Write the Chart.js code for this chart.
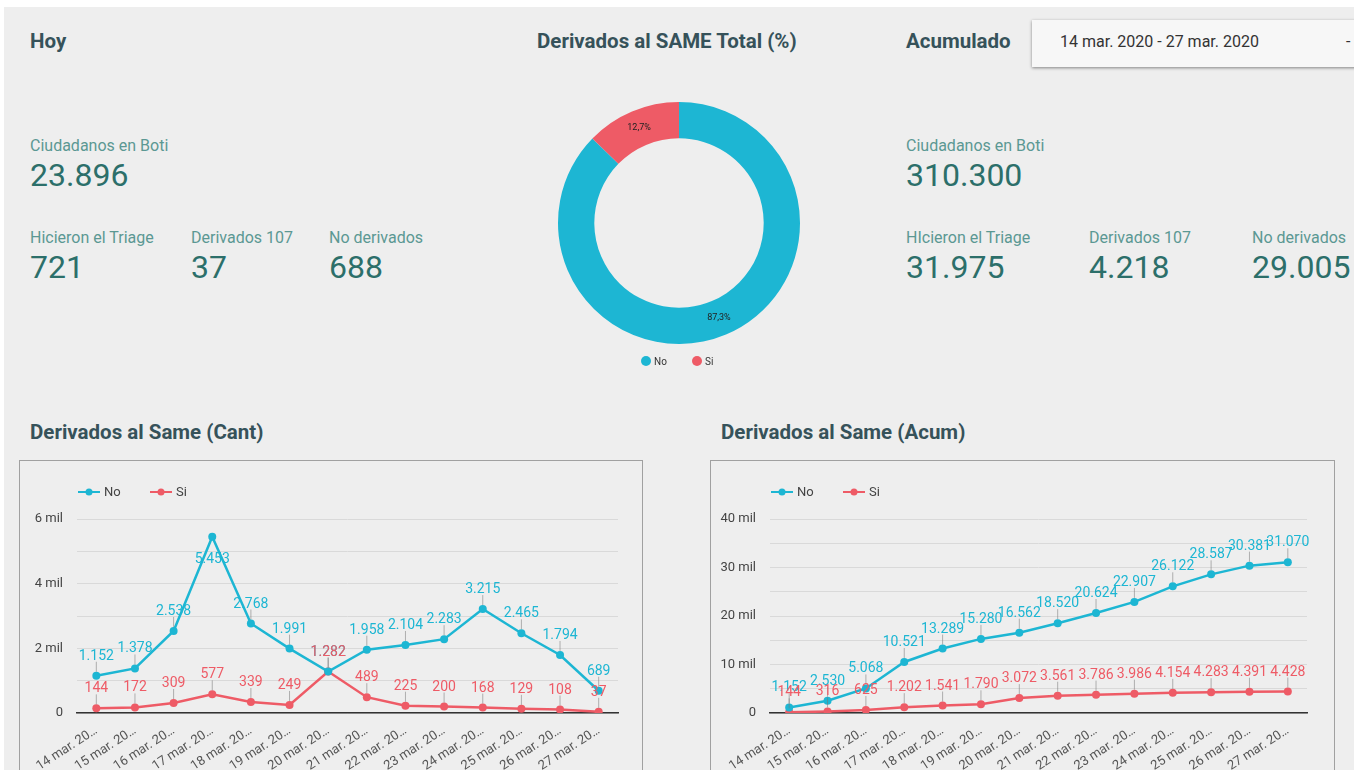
<!DOCTYPE html>
<html lang="es">
<head>
<meta charset="utf-8">
<title>Boti - Derivados al SAME</title>
<script src="https://cdn.jsdelivr.net/npm/chart.js@4.4.1/dist/chart.umd.min.js"></script>
<style>
  html, body { margin: 0; padding: 0; background: #fff; }
  body { width: 1354px; height: 770px; overflow: hidden; position: relative; font-family: Roboto, "Noto Sans", sans-serif; }
  #page { position: absolute; left: 4px; top: 7px; right: 0; bottom: 0; background: #eeeeee; }
  .t { position: absolute; white-space: nowrap; line-height: 1; }
  .title { font-weight: 700; font-size: 20.5px; color: #36525a; }
  .lbl { font-size: 16px; color: #5b9893; }
  .val { font-size: 32px; color: #2c6f6a; }
  .box { position: absolute; border: 1px solid #a0a0a0; overflow: hidden; }
  .box canvas { display: block; }
  #dropdown { position: absolute; left: 1032px; top: 20px; width: 340px; height: 47px; background: #f7f7f7;
              box-shadow: 0 1px 3px rgba(0,0,0,0.45); }
  #donutWrap { position: absolute; left: 538px; top: 90px; width: 282px; height: 290px; }
</style>
</head>
<body>
<div id="page"></div>

<!-- Hoy -->
<div class="t title" style="left:30px; top:31px;">Hoy</div>
<div class="t lbl" style="left:30px; top:138px;">Ciudadanos en Boti</div>
<div class="t val" id="hoyBoti" style="left:30px; top:159px;"></div>
<div class="t lbl" style="left:30px; top:230px;">Hicieron el Triage</div>
<div class="t lbl" style="left:191px; top:230px;">Derivados 107</div>
<div class="t lbl" style="left:329px; top:230px;">No derivados</div>
<div class="t val" id="hoyTriage" style="left:30px; top:251px;"></div>
<div class="t val" id="hoyDeriv" style="left:191px; top:251px;"></div>
<div class="t val" id="hoyNoDeriv" style="left:329px; top:251px;"></div>

<!-- Total donut -->
<div class="t title" style="left:537px; top:31px;">Derivados al SAME Total (%)</div>
<div id="donutWrap"><canvas id="donutChart" width="282" height="290"></canvas></div>

<!-- Acumulado -->
<div class="t title" style="left:906px; top:31px;">Acumulado</div>
<div id="dropdown"></div>
<div class="t" style="left:1060px; top:34px; font-size:16px; color:#333;">14 mar. 2020 - 27 mar. 2020</div>
<div class="t" style="left:1346px; top:34px; font-size:16px; color:#333;">-</div>
<div class="t lbl" style="left:906px; top:138px;">Ciudadanos en Boti</div>
<div class="t val" id="acuBoti" style="left:906px; top:159px;"></div>
<div class="t lbl" style="left:906px; top:230px;">HIcieron el Triage</div>
<div class="t lbl" style="left:1089px; top:230px;">Derivados 107</div>
<div class="t lbl" style="left:1252px; top:230px;">No derivados</div>
<div class="t val" id="acuTriage" style="left:906px; top:251px;"></div>
<div class="t val" id="acuDeriv" style="left:1089px; top:251px;"></div>
<div class="t val" id="acuNoDeriv" style="left:1252px; top:251px;"></div>

<!-- Line charts -->
<div class="t title" style="left:30px; top:422px;">Derivados al Same (Cant)</div>
<div class="box" style="left:19px; top:460px; width:622px; height:320px;">
  <canvas id="cantChart" width="622" height="320"></canvas>
</div>
<div class="t title" style="left:721px; top:422px;">Derivados al Same (Acum)</div>
<div class="box" style="left:710px; top:460px; width:623px; height:320px;">
  <canvas id="acumChart" width="623" height="320"></canvas>
</div>

<script>
// Scorecards
const hoyValues = [23896, 721, 37, 688];        // Boti, Triage, Derivados 107, No derivados
const acumValues = [310300, 31975, 4218, 29005];

// Donut (total)
const totalLabels = ["No", "Si"];
const totalValues = [29005, 4218];

// Daily series
const dates = [
  "14 mar. 2020", "15 mar. 2020", "16 mar. 2020", "17 mar. 2020", "18 mar. 2020",
  "19 mar. 2020", "20 mar. 2020", "21 mar. 2020", "22 mar. 2020", "23 mar. 2020",
  "24 mar. 2020", "25 mar. 2020", "26 mar. 2020", "27 mar. 2020"
];
const noDaily = [1152, 1378, 2538, 5453, 2768, 1991, 1282, 1958, 2104, 2283, 3215, 2465, 1794, 689];
const siDaily = [144, 172, 309, 577, 339, 249, 1282, 489, 225, 200, 168, 129, 108, 37];

// Accumulated series
const noAcum = [1152, 2530, 5068, 10521, 13289, 15280, 16562, 18520, 20624, 22907, 26122, 28587, 30381, 31070];
const siAcum = [144, 316, 625, 1202, 1541, 1790, 3072, 3561, 3786, 3986, 4154, 4283, 4391, 4428];

const NO_COLOR = "#1db6d3";
const SI_COLOR = "#ee5b66";

function fmt(v) {
  return String(v).replace(/\B(?=(\d{3})+(?!\d))/g, ".");
}

// fill scorecards
["hoyBoti", "hoyTriage", "hoyDeriv", "hoyNoDeriv"].forEach((id, i) => {
  document.getElementById(id).textContent = fmt(hoyValues[i]);
});
["acuBoti", "acuTriage", "acuDeriv", "acuNoDeriv"].forEach((id, i) => {
  document.getElementById(id).textContent = fmt(acumValues[i]);
});

// value labels with small leader line above each point
const pointLabels = {
  id: "pointLabels",
  afterDatasetsDraw(chart) {
    const ctx = chart.ctx;
    const area = chart.chartArea;
    ctx.save();
    ctx.font = "14px Roboto";
    ctx.textAlign = "center";
    chart.data.datasets.forEach((ds, di) => {
      const meta = chart.getDatasetMeta(di);
      meta.data.forEach((el, i) => {
        const v = ds.data[i];
        if (el.y - 30 < area.top) {
          // no room above: put it under the point
          ctx.fillStyle = ds.borderColor;
          ctx.fillText(fmt(v), el.x, el.y + 26);
          return;
        }
        ctx.strokeStyle = "rgba(120,120,120,0.55)";
        ctx.lineWidth = 1;
        ctx.beginPath();
        ctx.moveTo(el.x, el.y - 14);
        ctx.lineTo(el.x, el.y - 4);
        ctx.stroke();
        ctx.fillStyle = ds.borderColor;
        ctx.fillText(fmt(v), el.x, el.y - 16);
      });
    });
    ctx.restore();
  }
};

// legend: short line with dot, like the original dashboard
const lineLegend = {
  id: "lineLegend",
  afterDraw(chart) {
    const ctx = chart.ctx;
    let x = chart.chartArea.left + 1;
    const y = 31;
    ctx.save();
    ctx.font = "13px Roboto";
    ctx.textBaseline = "middle";
    chart.data.datasets.forEach(ds => {
      ctx.strokeStyle = ds.borderColor;
      ctx.lineWidth = 2;
      ctx.beginPath();
      ctx.moveTo(x, y);
      ctx.lineTo(x + 22, y);
      ctx.stroke();
      ctx.fillStyle = ds.borderColor;
      ctx.beginPath();
      ctx.arc(x + 11, y, 3.5, 0, Math.PI * 2);
      ctx.fill();
      ctx.fillStyle = "#444";
      ctx.fillText(ds.label, x + 26, y + 1);
      x += 72;
    });
    ctx.restore();
  }
};

function makeLineChart(id, noData, siData, yMax, step, labelEvery, rightPad, yWidth) {
  const ctx = document.getElementById(id).getContext("2d");
  return new Chart(ctx, {
    type: "line",
    data: {
      labels: dates,
      datasets: [
        { label: "No", data: noData, borderColor: NO_COLOR, backgroundColor: NO_COLOR,
          borderWidth: 2.5, pointRadius: 4, pointBorderWidth: 0, tension: 0 },
        { label: "Si", data: siData, borderColor: SI_COLOR, backgroundColor: SI_COLOR,
          borderWidth: 2.5, pointRadius: 4, pointBorderWidth: 0, tension: 0 }
      ]
    },
    options: {
      responsive: false,
      animation: false,
      layout: { padding: { top: 58, right: rightPad, left: 0, bottom: 0 } },
      plugins: { legend: { display: false }, title: { display: false }, tooltip: { enabled: false } },
      scales: {
        x: {
          offset: true,
          grid: { display: false },
          border: { color: "#333", width: 1.5 },
          ticks: {
            autoSkip: false, minRotation: 33, maxRotation: 33, padding: 2,
            color: "#555", font: { size: 13, family: "Roboto" },
            callback: function (v) { return this.getLabelForValue(v).slice(0, 10) + "…"; }
          },
          afterFit: s => { s.height = 68; }
        },
        y: {
          min: 0, max: yMax,
          grid: { color: "#d9d9d9", drawTicks: false },
          border: { display: false },
          ticks: {
            stepSize: step, padding: 14, color: "#444", font: { size: 13, family: "Roboto" },
            callback: v => (v % labelEvery !== 0 ? "" : v === 0 ? "0" : (v / 1000) + " mil")
          },
          afterFit: s => { s.width = yWidth; }
        }
      }
    },
    plugins: [pointLabels, lineLegend]
  });
}

makeLineChart("cantChart", noDaily, siDaily, 6000, 1000, 2000, 24, 57);
makeLineChart("acumChart", noAcum, siAcum, 40000, 5000, 10000, 27, 59);

// donut: percentage inside each slice + small legend below
const donutLabels = {
  id: "donutLabels",
  afterDatasetsDraw(chart) {
    const ctx = chart.ctx;
    const ds = chart.data.datasets[0];
    const total = ds.data.reduce((a, b) => a + b, 0);
    ctx.save();
    ctx.font = "9px Roboto";
    ctx.fillStyle = "#222";
    ctx.textAlign = "center";
    ctx.textBaseline = "middle";
    chart.getDatasetMeta(0).data.forEach((arc, i) => {
      const p = arc.tooltipPosition();
      const pct = (ds.data[i] / total * 100).toFixed(1).replace(".", ",") + "%";
      ctx.fillText(pct, p.x, p.y);
    });
    // legend
    const cx = (chart.chartArea.left + chart.chartArea.right) / 2;
    const y = chart.chartArea.bottom + 17;
    ctx.font = "10px Roboto";
    ctx.textAlign = "left";
    chart.data.labels.forEach((lab, i) => {
      const x = cx - 33 + i * 51;
      ctx.fillStyle = ds.backgroundColor[i];
      ctx.beginPath();
      ctx.arc(x, y, 5, 0, Math.PI * 2);
      ctx.fill();
      ctx.fillStyle = "#333";
      ctx.fillText(lab, x + 8, y + 1);
    });
    ctx.restore();
  }
};

new Chart(document.getElementById("donutChart").getContext("2d"), {
  type: "doughnut",
  data: {
    labels: totalLabels,
    datasets: [{ data: totalValues, backgroundColor: [NO_COLOR, SI_COLOR], borderWidth: 0 }]
  },
  options: {
    responsive: false,
    animation: false,
    cutout: "70%",
    layout: { padding: { top: 12, bottom: 36, left: 0, right: 0 } },
    plugins: { legend: { display: false }, tooltip: { enabled: false } }
  },
  plugins: [donutLabels]
});
</script>
</body>
</html>
